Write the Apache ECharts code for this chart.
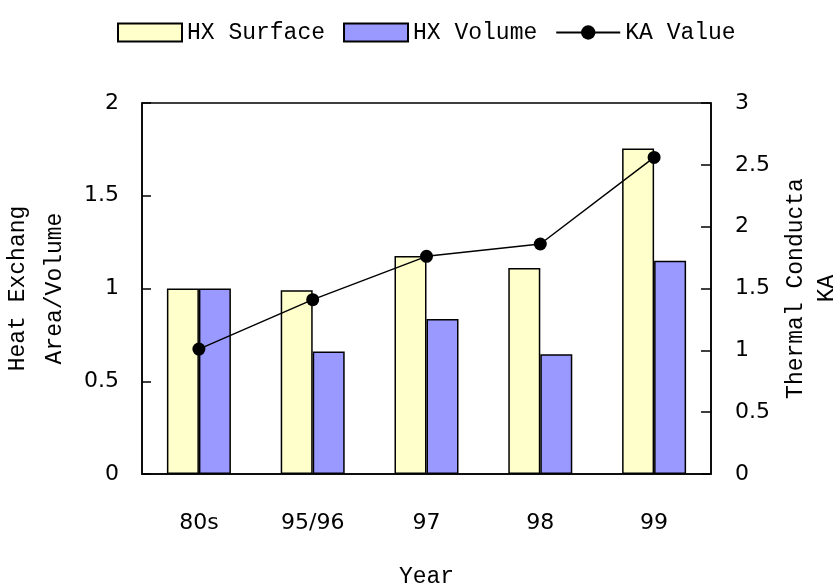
<!DOCTYPE html>
<html>
<head>
<meta charset="utf-8">
<script src="https://cdn.jsdelivr.net/npm/echarts@6/dist/echarts.min.js"></script>
<style>
  html, body { margin: 0; padding: 0; background: #fff; }
  #chart { width: 836px; height: 587px; }
</style>
</head>
<body>
<div id="chart"></div>
<script>
const years = ['80s', '95/96', '97', '98', '99']
const hxSurface = [1.0, 0.99, 1.175, 1.11, 1.755]
const hxVolume = [1.0, 0.66, 0.835, 0.645, 1.15]
const kaValue = [1.01, 1.41, 1.76, 1.86, 2.56]

const monoFont = '"Liberation Mono", "DejaVu Sans Mono", monospace'
const sansFont = '"DejaVu Sans", Verdana, sans-serif'
const ink = '#000'

const chart = echarts.init(document.getElementById('chart'))

chart.setOption({
  animation: false,
  backgroundColor: '#fff',
  legend: {
    left: 112,
    top: 16,
    itemWidth: 64,
    itemHeight: 18,
    itemGap: 18,
    textStyle: { fontFamily: monoFont, fontSize: 23, color: '#000' },
    data: [
      { name: 'HX Surface', icon: 'rect' },
      { name: 'HX Volume', icon: 'rect' },
      { name: 'KA Value' }
    ]
  },
  grid: {
    left: 142,
    right: 125,
    top: 103,
    bottom: 113,
    containLabel: false,
    outerBoundsMode: 'none',
    show: true,
    borderColor: ink,
    borderWidth: 1.5
  },
  xAxis: {
    type: 'category',
    data: years,
    name: 'Year',
    nameLocation: 'middle',
    nameGap: 91,
    nameTextStyle: { fontFamily: monoFont, fontSize: 23, color: '#000' },
    axisLine: { lineStyle: { color: ink, width: 1.5 } },
    axisTick: { inside: true, length: 6, lineStyle: { color: ink, width: 1.5 } },
    axisLabel: { margin: 38, fontFamily: sansFont, fontSize: 22, color: '#000' }
  },
  yAxis: [
    {
      type: 'value',
      min: 0,
      max: 2,
      interval: 0.5,
      name: 'Heat Exchang\nArea/Volume',
      nameLocation: 'middle',
      nameGap: 60,
      nameTextStyle: { fontFamily: monoFont, fontSize: 23, color: '#000', lineHeight: 37 },
      axisLine: { show: true, lineStyle: { color: ink, width: 1.5 } },
      axisTick: { show: true, inside: true, length: 9, lineStyle: { color: ink, width: 1.5 } },
      axisLabel: { margin: 23, fontFamily: sansFont, fontSize: 22, color: '#000' },
      splitLine: { show: false }
    },
    {
      type: 'value',
      min: 0,
      max: 3,
      interval: 0.5,
      name: 'Thermal Conducta\nKA',
      nameLocation: 'middle',
      nameGap: 68,
      nameTextStyle: { fontFamily: monoFont, fontSize: 23, color: '#000', lineHeight: 31 },
      axisLine: { show: true, lineStyle: { color: ink, width: 1.5 } },
      axisTick: { show: true, inside: true, length: 10, lineStyle: { color: ink, width: 1.5 } },
      axisLabel: { margin: 24, fontFamily: sansFont, fontSize: 22, color: '#000' },
      splitLine: { show: false }
    }
  ],
  series: [
    {
      name: 'HX Surface',
      type: 'bar',
      data: hxSurface,
      barWidth: 32,
      barGap: '0%',
      itemStyle: { color: '#ffffcc', borderColor: ink, borderWidth: 1.5 }
    },
    {
      name: 'HX Volume',
      type: 'bar',
      data: hxVolume,
      barWidth: 32,
      barGap: '0%',
      itemStyle: { color: '#9999ff', borderColor: ink, borderWidth: 1.5 }
    },
    {
      name: 'KA Value',
      type: 'line',
      yAxisIndex: 1,
      data: kaValue,
      symbol: 'circle',
      symbolSize: 13,
      lineStyle: { color: ink, width: 1.5 },
      itemStyle: { color: ink }
    }
  ]
})
</script>
</body>
</html>
